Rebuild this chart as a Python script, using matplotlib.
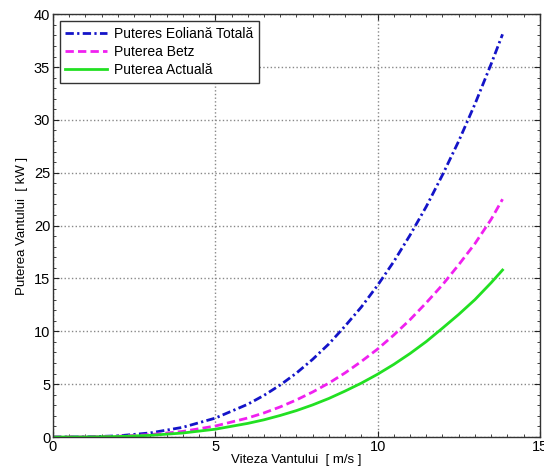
import matplotlib
matplotlib.use("Agg")
import matplotlib.pyplot as plt
import matplotlib.ticker as mticker

plt.rcParams["font.family"] = ["Liberation Sans", "DejaVu Sans"]

# wind speed [m/s] and power [kW]
viteza = [0, 1, 2, 3, 4, 5, 6, 6.5, 7, 7.5, 8, 8.5, 9, 9.5, 10, 10.5,
          11, 11.5, 12, 12.5, 13, 13.5, 13.85]
p_total = [0, 0.014, 0.11, 0.39, 0.92, 1.79, 3.1, 3.94, 4.92, 6.05, 7.35,
           8.81, 10.5, 12.3, 14.35, 16.6, 19.1, 21.8, 24.8, 28.0, 31.5,
           35.3, 38.1]
p_betz = [0, 0.008, 0.067, 0.23, 0.53, 1.04, 1.8, 2.28, 2.85, 3.51, 4.26,
          5.1, 6.07, 7.15, 8.32, 9.65, 11.1, 12.7, 14.4, 16.3, 18.3,
          20.6, 22.5]
p_actual = [0, 0.006, 0.048, 0.16, 0.38, 0.74, 1.29, 1.63, 2.04, 2.5, 3.04,
            3.65, 4.35, 5.1, 5.94, 6.87, 7.9, 9.03, 10.3, 11.6, 13.0,
            14.6, 15.8]

labels = ["Puteres Eoliană Totală", "Puterea Betz", "Puterea Actuală"]

fig = plt.figure(figsize=(5.44, 4.74), dpi=100)
ax = fig.add_axes([0.0974, 0.078, 0.895, 0.892])

ax.plot(viteza, p_total, color="#1414c8", linestyle=(0, (3, 1.2, 0.8, 1.2)),
        linewidth=2, label=labels[0])
ax.plot(viteza, p_betz, color="#f020f0", linestyle=(0, (3, 1.5)),
        linewidth=2, label=labels[1])
ax.plot(viteza, p_actual, color="#22e022", linestyle="-", linewidth=2,
        label=labels[2])

ax.set_xlim(0, 15)
ax.set_ylim(0, 40)
ax.xaxis.set_major_locator(mticker.MultipleLocator(5))
ax.xaxis.set_minor_locator(mticker.MultipleLocator(0.5))
ax.yaxis.set_major_locator(mticker.MultipleLocator(5))
ax.yaxis.set_minor_locator(mticker.MultipleLocator(1))
ax.tick_params(which="both", direction="in", top=True, right=True,
               labelsize=10.5, color="#222222", pad=2)
ax.tick_params(which="major", length=4)
ax.tick_params(which="minor", length=2.5)
ax.grid(True, which="major", color="#888888", linestyle=":", linewidth=1)

for sp in ax.spines.values():
    sp.set_color("#333333")
    sp.set_linewidth(1)

ax.set_xlabel("Viteza Vantului  [ m/s ]", fontsize=9.5, labelpad=0)
ax.set_ylabel("Puterea Vantului  [ kW ]", fontsize=9.5, labelpad=4)

leg = ax.legend(loc="upper left", fontsize=10, fancybox=False, framealpha=1,
                edgecolor="#333333", handlelength=3, borderaxespad=0.5,
                labelspacing=0.3, handletextpad=0.5)
leg.get_frame().set_linewidth(1)

fig.savefig("out.png", dpi=100)
